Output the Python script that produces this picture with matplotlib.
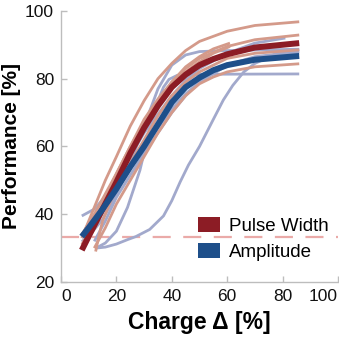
import matplotlib
matplotlib.use("Agg")
import matplotlib.pyplot as plt
from matplotlib.patches import Patch

plt.rcParams['font.family'] = ['Liberation Sans', 'DejaVu Sans']
plt.rcParams['lines.scale_dashes'] = False

# ---------------- data ----------------
# Mean fits
pw_mean_x = [7.5, 10, 15, 20, 25, 30, 35, 40, 45, 50, 55, 60, 70, 86]
pw_mean_y = [29.4, 33.5, 41.5, 49.5, 58, 65.5, 72, 77.5, 81.2, 84, 85.8, 87.2, 89.2, 90.5]
amp_mean_x = [7.5, 10, 15, 20, 25, 30, 35, 40, 45, 50, 55, 60, 70, 86]
amp_mean_y = [33.4, 36, 41.5, 47.5, 54, 60, 66.5, 73, 77.5, 80.3, 82.5, 84, 85.6, 86.7]

# Individual pulse-width fits
pw_ind_x = [
    [7.5, 12, 16, 20, 25, 30, 35, 40, 45, 50, 60, 70, 86],
    [7.5, 12, 16, 20, 25, 30, 35, 40, 45, 50, 60, 70, 86],
    [12.5, 13.5, 15, 20, 25, 30, 35, 40, 45, 50, 55, 61],
    [7.5, 12, 16, 20, 25, 30, 35, 40, 45, 50, 55, 61],
    [12, 16, 20, 25, 30, 35, 40, 45, 50, 55, 60, 70, 86],
    [7.5, 12, 16, 20, 25, 30, 35, 40, 45, 50, 60, 70, 86],
]
pw_ind_y = [
    [33, 42, 50, 57, 66, 73.5, 80, 84.5, 88.3, 91, 94, 95.7, 96.8],
    [34, 40, 46, 52, 60, 68, 74, 79, 83, 86, 89.5, 91.5, 92.9],
    [29, 33, 38, 48, 57, 66, 73, 79, 83.5, 86.5, 88.8, 90.5],
    [31, 38, 45, 52, 60, 67, 73, 78, 82, 85, 87.5, 89.5],
    [30, 36, 43, 50, 57, 64, 70, 75, 78.5, 80.5, 82, 83.5, 84.4],
    [30, 36, 42, 48, 55, 62, 69, 75, 79, 82, 86, 87.5, 88.5],
]

# Individual amplitude fits
amp_ind_x = [
    [12.6, 16, 20, 24, 27, 32, 37, 40, 43, 46, 50, 55, 58.6, 62, 66, 70, 78, 86],
    [7.5, 12, 20, 30, 40, 45, 50, 60, 70, 86],
    [12.6, 16, 20, 24, 28.5, 32, 35, 37, 39, 42, 50, 86],
    [7.5, 10, 15, 20, 25, 30, 35, 40, 45, 50, 60, 86],
    [7.5, 12, 20, 30, 40, 45, 50, 60, 70, 81],
    [12, 16, 20, 30, 40, 45, 50, 60, 70, 86],
]
amp_ind_y = [
    [30, 30.3, 31.2, 32.5, 33.4, 35.5, 39.5, 44, 49.5, 54.5, 60, 68, 73.7, 78, 82, 84.5, 87.5, 88.5],
    [39.5, 41.5, 49, 60, 71, 75.5, 79, 84, 86.5, 88],
    [30, 31.5, 35, 42, 53, 65, 73.5, 77.5, 79.8, 81, 81.3, 81.4],
    [31.9, 33.5, 38.5, 46, 55, 66, 77, 84, 87, 88, 88.3, 88.7],
    [33, 38, 50, 64, 75, 79.5, 83, 87.5, 90.5, 92],
    [32, 38, 45, 58, 70, 75, 79, 84, 86, 87.5],
]

chance_level = 33.3
x_ticks = [0, 20, 40, 60, 80, 100]
y_ticks = [20, 40, 60, 80, 100]
legend_labels = ['Pulse Width', 'Amplitude']

# ---------------- style ----------------
pw_dark = '#8C1C25'
amp_dark = '#1E4F8A'
pw_light = '#D49A8A'
amp_light = '#A2A9CC'

fig = plt.figure(figsize=(3.39, 3.41), dpi=100)
ax = fig.add_axes([0.18, 0.173, 0.817, 0.795])

ax.plot([0, 100], [chance_level, chance_level], color='#EAAAA8', lw=1.6,
        linestyle=(0, (13, 9)), zorder=1)

for xs, ys in zip(amp_ind_x, amp_ind_y):
    ax.plot(xs, ys, color=amp_light, lw=2.0, solid_capstyle='butt', zorder=2)
for xs, ys in zip(pw_ind_x, pw_ind_y):
    ax.plot(xs, ys, color=pw_light, lw=2.0, solid_capstyle='butt', zorder=2)

ax.plot(pw_mean_x, pw_mean_y, color=pw_dark, lw=4.3, solid_capstyle='butt', zorder=3)
ax.plot(amp_mean_x, amp_mean_y, color=amp_dark, lw=4.3, solid_capstyle='butt', zorder=4)

ax.set_xlim(0, 100)
ax.set_ylim(20, 100)
ax.set_xticks(x_ticks)
ax.set_yticks(y_ticks)
ax.set_xticklabels([str(t) for t in x_ticks])
ax.set_yticklabels([str(t) for t in y_ticks])
lbls = ax.get_xticklabels()
lbls[0].set_horizontalalignment('left')
lbls[-1].set_horizontalalignment('right')

for s in ['top', 'right']:
    ax.spines[s].set_visible(False)
for s in ['left', 'bottom']:
    ax.spines[s].set_color('#BDBDBD')
    ax.spines[s].set_linewidth(1.0)
ax.tick_params(direction='in', length=4, width=1, color='#BDBDBD',
               labelsize=12.5, labelcolor='#111111', pad=5)

ax.set_xlabel('Charge Δ [%]', fontsize=16.5, fontweight='bold', labelpad=5)
ax.set_ylabel('Performance [%]', fontsize=15, fontweight='bold')
ax.yaxis.set_label_coords(-0.143, 0.5)

handles = [Patch(facecolor=pw_dark, edgecolor='none'),
           Patch(facecolor=amp_dark, edgecolor='none')]
ax.legend(handles, legend_labels, loc='lower right', bbox_to_anchor=(0.995, 0.05),
          frameon=False, fontsize=13.5, handlelength=1.15, handleheight=0.85,
          handletextpad=0.5, labelspacing=0.45, borderaxespad=0.0)

fig.savefig('out.png', dpi=100)
